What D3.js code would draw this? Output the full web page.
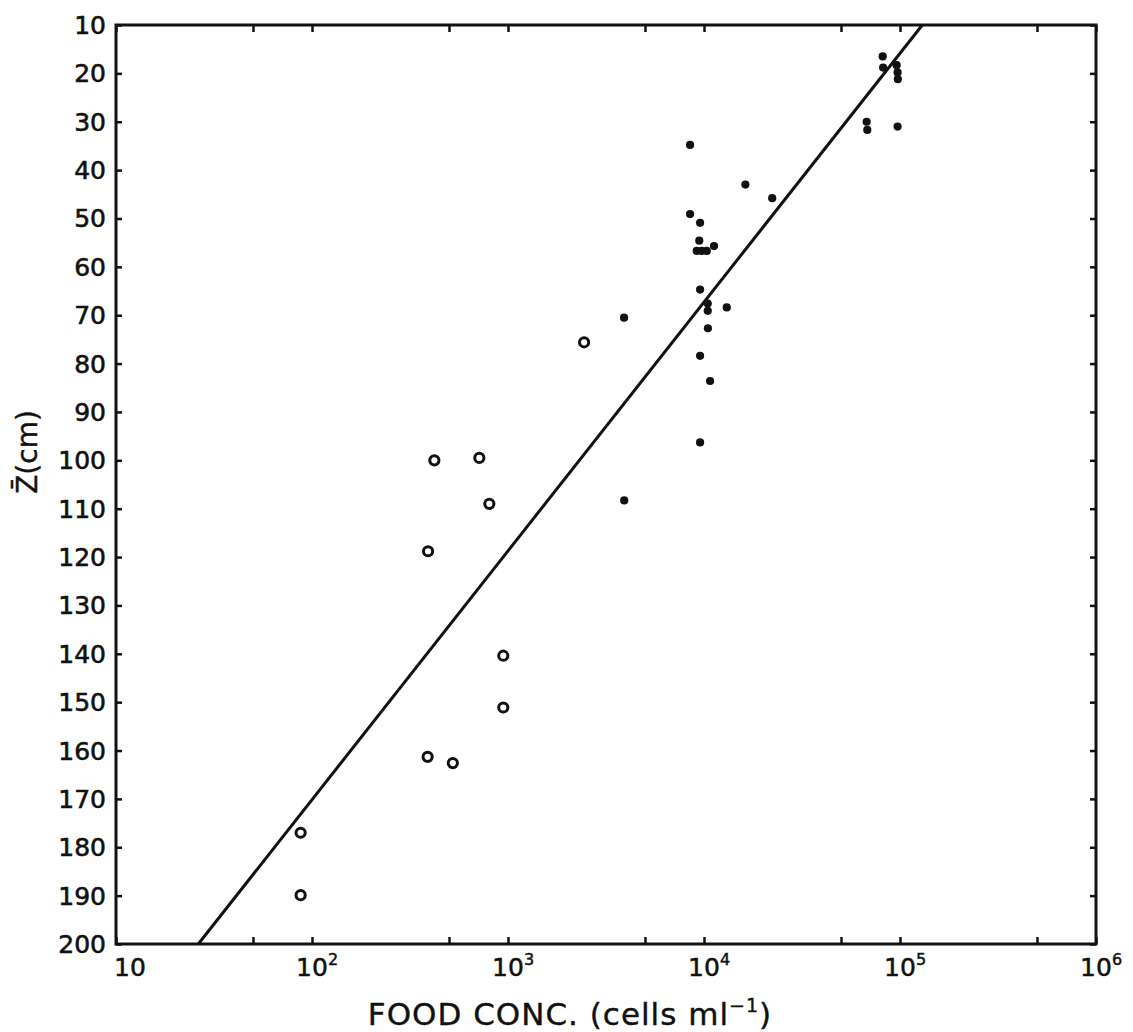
<!DOCTYPE html>
<html lang="en">
    <head>
        <meta charset="utf-8">
        <title>Food concentration vs mean depth</title>
        <script src="https://cdn.jsdelivr.net/npm/d3@7"></script>
    </head>

    <body style = "margin: 0px; background: white">
        <script type="text/javascript">

            // filled dots: food conc. (cells/ml), mean depth Z (cm)
            var filledConc = [8490, 16260, 22280, 8490, 9550, 9460, 11250, 9180, 9730, 10330,
                              9550, 10450, 10450, 13060, 10470, 9550, 10740, 9550, 3910, 3917,
                              81600, 82000, 96100, 97200, 97500, 67600, 68100, 97200];
            var filledZ    = [34.8, 43.0, 45.8, 49.1, 50.9, 54.6, 55.7, 56.7, 56.7, 56.7,
                              64.7, 67.6, 69.1, 68.4, 72.7, 78.4, 83.6, 96.3, 70.5, 108.3,
                              16.5, 18.8, 18.3, 19.8, 21.2, 30.0, 31.7, 31.0];

            // open circles
            var openConc = [2445, 421, 714, 803, 391, 946, 946, 389, 523, 87.5, 87.5];
            var openZ    = [75.6, 100.0, 99.5, 109.0, 118.8, 140.4, 151.1, 161.3, 162.6, 177.0, 189.9];

            // fitted regression line end points
            var lineConc = [26.3, 130000];
            var lineZ    = [200, 10];

            // ticks
            var zTicks = [10, 20, 30, 40, 50, 60, 70, 80, 90, 100, 110, 120, 130, 140, 150, 160, 170, 180, 190, 200];
            var concMajor = [10, 100, 1000, 10000, 100000, 1000000];
            var concMinor = [50, 500, 5000, 50000, 500000];
            var concExp = ["", "2", "3", "4", "5", "6"];

            var width = 1133;
            var height = 1032;
            var font = "'DejaVu Sans', sans-serif";

            var svg = d3.select("body")
                .append("svg")
                .attr("width", width)
                .attr("height", height);

            var x = d3.scaleLog().domain([10, 1e6]).range([116, 1096]);
            var y = d3.scaleLinear().domain([10, 200]).range([25, 944]);

            var x0 = x.range()[0], x1 = x.range()[1];
            var y0 = y.range()[0], y1 = y.range()[1];

            // inward tick marks on all four sides
            var allConcTicks = concMajor.concat(concMinor);
            function tickStyle(g){
                g.select(".domain").remove();
                g.selectAll("line").attr("stroke", "#111").attr("stroke-width", 2.5);
                g.selectAll("text").remove();
            }
            svg.append("g")
                .attr("transform", "translate(0," + y1 + ")")
                .call(d3.axisBottom(x).tickValues(allConcTicks).tickSizeInner(-7).tickSizeOuter(0))
                .call(tickStyle);
            svg.append("g")
                .attr("transform", "translate(0," + y0 + ")")
                .call(d3.axisTop(x).tickValues(allConcTicks).tickSizeInner(-7).tickSizeOuter(0))
                .call(tickStyle);
            svg.append("g")
                .attr("transform", "translate(" + x0 + ",0)")
                .call(d3.axisLeft(y).tickValues(zTicks).tickSizeInner(-6).tickSizeOuter(0))
                .call(tickStyle);
            svg.append("g")
                .attr("transform", "translate(" + x1 + ",0)")
                .call(d3.axisRight(y).tickValues(zTicks).tickSizeInner(-6).tickSizeOuter(0))
                .call(tickStyle);

            // frame
            svg.append("rect")
                .attr("x", x0)
                .attr("y", y0)
                .attr("width", x1 - x0)
                .attr("height", y1 - y0)
                .attr("fill", "none")
                .attr("stroke", "#111")
                .attr("stroke-width", 3);

            // y tick labels
            svg.append("g").selectAll("text")
                .data(zTicks)
                .enter().append("text")
                .attr("x", x0 - 10)
                .attr("y", function(d){ return y(d); })
                .attr("dy", "0.36em")
                .attr("text-anchor", "end")
                .attr("font-family", font)
                .style("font-size", "25px")
                .attr("fill", "#111")
                .attr("stroke", "#111")
                .attr("stroke-width", 0.6)
                .text(function(d){ return d; });

            // x tick labels (10, 10^2 ... 10^6)
            var xl = svg.append("g").selectAll("text")
                .data(concMajor)
                .enter().append("text")
                .attr("x", function(d, i){ return i == 0 ? x(d) + 14 : x(d); })
                .attr("y", y1 + 32)
                .attr("font-family", font)
                .attr("fill", "#111")
                .attr("stroke", "#111")
                .attr("stroke-width", 0.5)
                .style("font-size", "25px");
            xl.append("tspan")
                .text("10");
            xl.append("tspan")
                .attr("dy", "-11")
                .style("font-size", "16px")
                .text(function(d, i){ return concExp[i]; });
            // center only the "10" part on the tick
            xl.each(function(){
                var base = d3.select(this).select("tspan").node().getComputedTextLength();
                d3.select(this).attr("x", +d3.select(this).attr("x") - base / 2);
            });

            // regression line
            var pts = lineConc.map(function(c, i){ return [c, lineZ[i]]; });
            svg.append("path")
                .datum(pts)
                .attr("d", d3.line().x(function(d){ return x(d[0]); }).y(function(d){ return y(d[1]); }))
                .attr("fill", "none")
                .attr("stroke", "#111")
                .attr("stroke-width", 3);

            // filled dots
            svg.append("g").selectAll("circle")
                .data(filledConc)
                .enter().append("circle")
                .attr("cx", function(d){ return x(d); })
                .attr("cy", function(d, i){ return y(filledZ[i]); })
                .attr("r", 4.1)
                .attr("fill", "#111");

            // open circles
            svg.append("g").selectAll("circle")
                .data(openConc)
                .enter().append("circle")
                .attr("cx", function(d){ return x(d); })
                .attr("cy", function(d, i){ return y(openZ[i]); })
                .attr("r", 4.6)
                .attr("fill", "white")
                .attr("stroke", "#111")
                .attr("stroke-width", 3);

            // axis titles
            var xt = svg.append("text")
                .attr("x", 570)
                .attr("y", 1025)
                .attr("text-anchor", "middle")
                .attr("font-family", font)
                .attr("fill", "#111")
                .attr("stroke", "#111")
                .attr("stroke-width", 0.4)
                .style("font-size", "31px")
                .style("letter-spacing", "1px");
            xt.append("tspan").text("FOOD CONC. (cells ml");
            xt.append("tspan").attr("dy", "-13").style("font-size", "19px").text("\u22121");
            xt.append("tspan").attr("dy", "13").text(")");

            svg.append("text")
                .attr("transform", "translate(37,452) rotate(-90)")
                .attr("text-anchor", "middle")
                .attr("font-family", font)
                .attr("fill", "#111")
                .attr("stroke", "#111")
                .attr("stroke-width", 0.4)
                .style("font-size", "28px")
                .text("Z\u0304(cm)");
        </script>
    </body>
</html>
